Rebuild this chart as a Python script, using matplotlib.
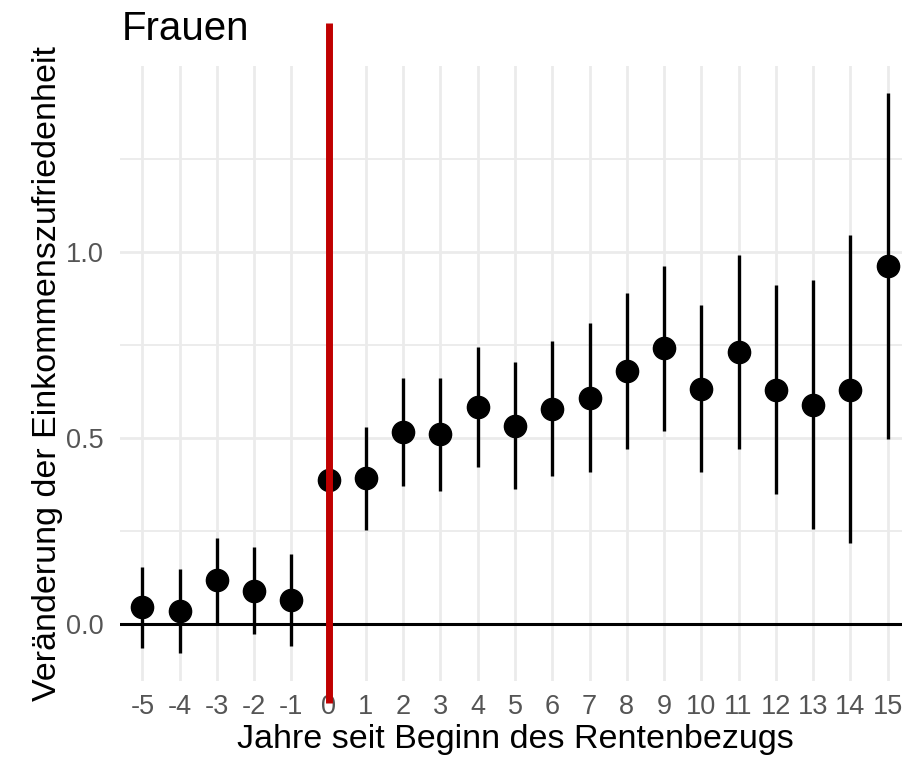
import matplotlib
matplotlib.use("Agg")
import matplotlib.pyplot as plt
from matplotlib.ticker import FixedLocator

plt.rcParams['font.family'] = ['Liberation Sans', 'DejaVu Sans']

# years relative to pension start, with point estimates and 95% CI
years = list(range(-5, 16))
estimate = [0.047, 0.037, 0.119, 0.090, 0.065, 0.387, 0.392, 0.516, 0.510, 0.583,
            0.533, 0.579, 0.609, 0.681, 0.742, 0.633, 0.731, 0.630, 0.589, 0.630, 0.961]
ci_lower = [-0.063, -0.076, 0.003, -0.026, -0.058, 0.387, 0.253, 0.372, 0.358, 0.422,
            0.363, 0.399, 0.410, 0.471, 0.520, 0.409, 0.471, 0.349, 0.255, 0.219, 0.497]
ci_upper = [0.155, 0.148, 0.231, 0.207, 0.188, 0.387, 0.531, 0.661, 0.661, 0.745,
            0.705, 0.762, 0.809, 0.890, 0.963, 0.858, 0.991, 0.911, 0.925, 1.045, 1.426]
y_ticks = [0.0, 0.5, 1.0]
y_ticklabels = ["0.0", "0.5", "1.0"]

W, H = 902, 761
fig = plt.figure(figsize=(W / 100, H / 100), dpi=100)
# panel in pixel coords: left 120, right 910 (slightly past the edge), top 66, bottom 681
ax = fig.add_axes([120 / W, 1 - 681 / H, 790 / W, (681 - 66) / H])

ax.set_xlim(-5.6, 15.6)
ax.set_ylim(-0.152, 1.499)

# grid like theme_minimal
ax.set_facecolor('white')
for s in ax.spines.values():
    s.set_visible(False)
ax.xaxis.set_major_locator(FixedLocator(years))
ax.set_xticklabels([str(y) for y in years])
ax.yaxis.set_major_locator(FixedLocator(y_ticks))
ax.set_yticklabels(y_ticklabels)
ax.yaxis.set_minor_locator(FixedLocator([0.25, 0.75, 1.25]))
ax.grid(which='major', color='#EBEBEB', linewidth=2.0, zorder=0)
ax.grid(which='minor', axis='y', color='#EBEBEB', linewidth=1.3, zorder=0)
ax.set_axisbelow(True)
ax.tick_params(which='both', length=0)
ax.tick_params(axis='x', labelsize=19.5, labelcolor='#555555', pad=9)
ax.tick_params(axis='y', labelsize=19.5, labelcolor='#555555', pad=12)

ax.axhline(0, color='black', linewidth=2.2, zorder=2)

ax.vlines(years, ci_lower, ci_upper, color='black', linewidth=2.4, zorder=3)
ax.plot(years, estimate, 'o', color='black', markersize=16, zorder=4)

# retirement start marker, drawn past the panel like the original
ax.plot([0, 0], [-0.212, 1.614], color='#C00000', linewidth=5, zorder=5,
        clip_on=False, solid_capstyle='butt')

ax.set_xlabel("Jahre seit Beginn des Rentenbezugs", fontsize=24.5, labelpad=3)
ax.set_ylabel("Veränderung der Einkommenszufriedenheit", fontsize=24.5, labelpad=2)

fig.text(122 / W, 1 - 40 / H, "Frauen", fontsize=29, ha='left', va='baseline')

fig.savefig("out.png", dpi=100)
